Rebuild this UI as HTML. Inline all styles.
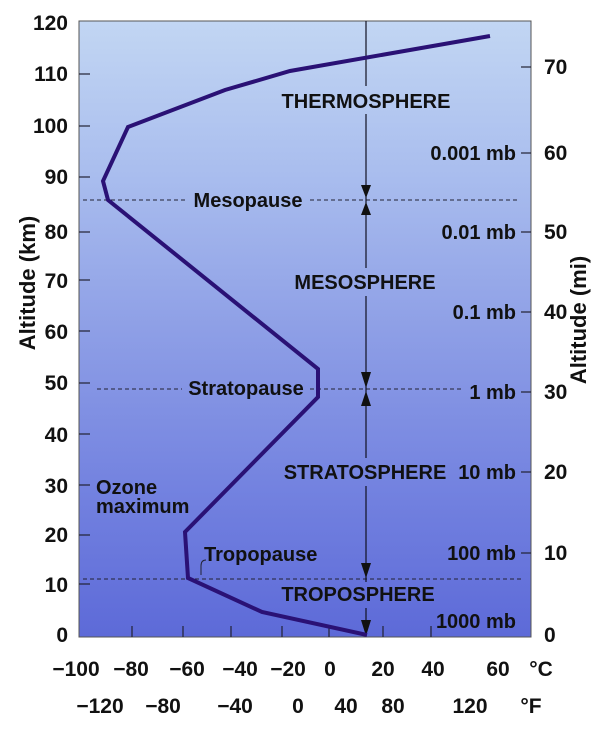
<!DOCTYPE html>
<html><head><meta charset="utf-8"><style>
body{margin:0;background:#fff;}
text{font-family:"Liberation Sans",Arial,sans-serif;font-weight:bold;fill:#111;}
</style></head><body>
<svg width="600" height="732" viewBox="0 0 600 732" xmlns="http://www.w3.org/2000/svg">
<defs>
<linearGradient id="bg" x1="0" y1="0" x2="0" y2="1">
<stop offset="0" stop-color="#c2d6f3"/>
<stop offset="0.25" stop-color="#a9bdee"/>
<stop offset="0.5" stop-color="#8e9fe6"/>
<stop offset="0.75" stop-color="#7483e0"/>
<stop offset="1" stop-color="#5d6ad8"/>
</linearGradient>
</defs>
<rect x="79" y="21" width="452" height="616" fill="url(#bg)" stroke="#555" stroke-width="1"/>
<g stroke="#223" stroke-width="1.2">
<line x1="79" y1="74" x2="90" y2="74"/><line x1="79" y1="126" x2="90" y2="126"/>
<line x1="79" y1="177" x2="90" y2="177"/><line x1="79" y1="232" x2="90" y2="232"/>
<line x1="79" y1="280" x2="90" y2="280"/><line x1="79" y1="331" x2="90" y2="331"/>
<line x1="79" y1="383" x2="90" y2="383"/><line x1="79" y1="434" x2="90" y2="434"/>
<line x1="79" y1="485" x2="90" y2="485"/><line x1="79" y1="535" x2="90" y2="535"/>
<line x1="79" y1="584" x2="90" y2="584"/>
<line x1="521" y1="67" x2="531" y2="67"/><line x1="521" y1="153" x2="531" y2="153"/>
<line x1="521" y1="232" x2="531" y2="232"/><line x1="521" y1="312" x2="531" y2="312"/>
<line x1="521" y1="392" x2="531" y2="392"/><line x1="521" y1="472" x2="531" y2="472"/>
<line x1="521" y1="553" x2="531" y2="553"/>
<line x1="132" y1="626" x2="132" y2="637"/><line x1="183" y1="626" x2="183" y2="637"/>
<line x1="231" y1="626" x2="231" y2="637"/><line x1="282" y1="626" x2="282" y2="637"/>
<line x1="329" y1="626" x2="329" y2="637"/><line x1="383" y1="626" x2="383" y2="637"/>
<line x1="431" y1="626" x2="431" y2="637"/>
</g>
<g stroke="#223" stroke-width="1" stroke-dasharray="4,3">
<line x1="83" y1="200" x2="186" y2="200"/><line x1="310" y1="200" x2="520" y2="200"/>
<line x1="97" y1="389" x2="182" y2="389"/><line x1="310" y1="389" x2="462" y2="389"/>
<line x1="83" y1="579" x2="522" y2="579"/>
</g>
<g stroke="#112" stroke-width="1.2">
<line x1="366" y1="21" x2="366" y2="86"/>
<line x1="366" y1="114" x2="366" y2="268"/>
<line x1="366" y1="296" x2="366" y2="458"/>
<line x1="366" y1="486" x2="366" y2="582"/>
<line x1="366" y1="608" x2="366" y2="636"/>
</g>
<g fill="#111">
<polygon points="361,185 371,185 366,198"/><polygon points="361,215 371,215 366,202"/>
<polygon points="361,372 371,372 366,388"/><polygon points="361,406 371,406 366,391"/>
<polygon points="361,563 371,563 366,578"/>
<polygon points="361,620 371,620 366,636"/>
</g>
<polyline points="367,635 262,612 188,578 185,532 318,397 318,369 108,200 103,181 128,127 225,90 290,71 490,36" fill="none" stroke="#2a1175" stroke-width="4"/>
<path d="M201,575 L201,566 Q201,560 206,560" fill="none" stroke="#223" stroke-width="1"/>
<g font-size="20">
<text x="366" y="108" text-anchor="middle">THERMOSPHERE</text>
<text x="248" y="207" text-anchor="middle">Mesopause</text>
<text x="365" y="289" text-anchor="middle">MESOSPHERE</text>
<text x="246" y="395" text-anchor="middle">Stratopause</text>
<text x="365" y="479" text-anchor="middle">STRATOSPHERE</text>
<text x="96" y="494">Ozone</text>
<text x="96" y="513">maximum</text>
<text x="204" y="561">Tropopause</text>
<text x="358" y="601" text-anchor="middle">TROPOSPHERE</text>
<text x="516" y="160" text-anchor="end">0.001 mb</text>
<text x="516" y="239" text-anchor="end">0.01 mb</text>
<text x="516" y="319" text-anchor="end">0.1 mb</text>
<text x="516" y="399" text-anchor="end">1 mb</text>
<text x="516" y="479" text-anchor="end">10 mb</text>
<text x="516" y="560" text-anchor="end">100 mb</text>
<text x="516" y="628" text-anchor="end">1000 mb</text>
</g>
<g font-size="21" text-anchor="end">
<text x="68" y="30">120</text><text x="68" y="81">110</text><text x="68" y="133">100</text>
<text x="68" y="184">90</text><text x="68" y="239">80</text><text x="68" y="288">70</text>
<text x="68" y="339">60</text><text x="68" y="390">50</text><text x="68" y="442">40</text>
<text x="68" y="493">30</text><text x="68" y="542">20</text><text x="68" y="592">10</text>
<text x="68" y="642">0</text>
</g>
<g font-size="21">
<text x="544" y="74">70</text><text x="544" y="160">60</text><text x="544" y="239">50</text>
<text x="544" y="319">40</text><text x="544" y="399">30</text><text x="544" y="479">20</text>
<text x="544" y="560">10</text><text x="544" y="642">0</text>
</g>
<text font-size="22" transform="translate(35,283) rotate(-90)" text-anchor="middle">Altitude (km)</text>
<text font-size="22" transform="translate(586,320) rotate(-90)" text-anchor="middle">Altitude (mi)</text>
<g font-size="21" text-anchor="middle">
<text x="76" y="676">−100</text><text x="131" y="676">−80</text><text x="187" y="676">−60</text>
<text x="240" y="676">−40</text><text x="288" y="676">−20</text><text x="330" y="676">0</text>
<text x="383" y="676">20</text><text x="433" y="676">40</text><text x="498" y="676">60</text>
<text x="541" y="676">°C</text>
<text x="100" y="713">−120</text><text x="163" y="713">−80</text><text x="235" y="713">−40</text>
<text x="298" y="713">0</text><text x="346" y="713">40</text><text x="393" y="713">80</text>
<text x="470" y="713">120</text><text x="531" y="713">°F</text>
</g>
</svg>
</body></html>
